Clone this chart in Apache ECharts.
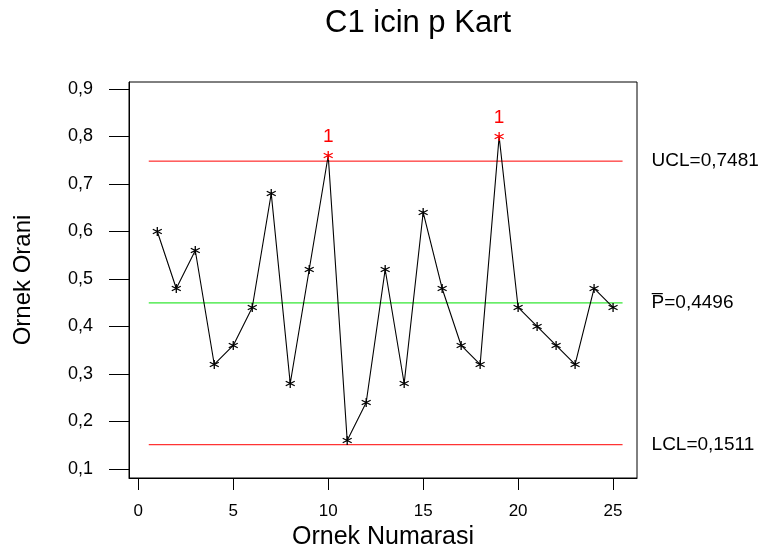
<!DOCTYPE html>
<html>
<head>
<meta charset="utf-8">
<script src="https://cdn.jsdelivr.net/npm/echarts@6/dist/echarts.min.js"></script>
<style>
  html, body { margin: 0; padding: 0; background: #fff; }
  #chart { width: 768px; height: 555px; }
</style>
</head>
<body>
<div id="chart"></div>
<script>
// p chart: proportion per sample, with centre line and 3-sigma limits
const sampleNumbers = [1, 2, 3, 4, 5, 6, 7, 8, 9, 10, 11, 12, 13, 14, 15, 16, 17, 18, 19, 20, 21, 22, 23, 24, 25];
const proportions = [0.60, 0.48, 0.56, 0.32, 0.36, 0.44, 0.68, 0.28, 0.52, 0.76, 0.16, 0.24, 0.52, 0.28, 0.64, 0.48, 0.36, 0.32, 0.80, 0.44, 0.40, 0.36, 0.32, 0.48, 0.44];
const centerLine = 0.4496;
const upperLimit = 0.7481;
const lowerLimit = 0.1511;
const limitSpan = [0.55, 25.5];
const xTicks = [0, 5, 10, 15, 20, 25];
const yTicks = [0.1, 0.2, 0.3, 0.4, 0.5, 0.6, 0.7, 0.8, 0.9];

const FONT = 'Liberation Sans, Arial, sans-serif';
const fmt = v => v.toFixed(1).replace('.', ',');
const fmt4 = v => v.toFixed(4).replace('.', ',');

// asterisk marker
const asterisk = 'path://M0,-1L0,1M-0.866,-0.5L0.866,0.5M-0.866,0.5L0.866,-0.5';

const points = sampleNumbers.map((n, i) => {
  const v = proportions[i];
  const out = v > upperLimit || v < lowerLimit;
  const item = { value: [n, v] };
  if (out) {
    item.itemStyle = { color: '#ff0000', borderColor: '#ff0000' };
    item.label = {
      show: true, position: 'top', distance: 4, formatter: '1',
      color: '#ff0000', fontSize: 19, fontFamily: FONT
    };
  }
  return item;
});

// horizontal control line with its value written past the right end
function limitSeries(value, color, text) {
  return {
    type: 'line',
    data: [[limitSpan[0], value], [limitSpan[1], value]],
    symbol: 'none',
    silent: true,
    lineStyle: { color: color, width: 1 },
    endLabel: {
      show: true, distance: 29, formatter: text,
      color: '#000', fontSize: 19, fontFamily: FONT
    },
    z: 2
  };
}

const chart = echarts.init(document.getElementById('chart'), null, { renderer: 'canvas' });
chart.setOption({
  animation: false,
  backgroundColor: '#ffffff',
  title: {
    text: 'C1 icin p Kart',
    left: 320, top: 3,
    textStyle: { fontFamily: FONT, fontSize: 31, fontWeight: 'normal', color: '#000' }
  },
  grid: {
    left: 129, top: 82, width: 508, height: 396,
    outerBoundsMode: 'none', containLabel: false,
    show: true, borderColor: '#000', borderWidth: 1, backgroundColor: 'transparent'
  },
  xAxis: {
    type: 'value', min: -0.49, max: 26.26,
    name: 'Ornek Numarasi', nameLocation: 'middle', nameGap: 42,
    nameTextStyle: { fontFamily: FONT, fontSize: 25, color: '#000' },
    axisLine: { show: true, onZero: false, lineStyle: { color: '#000', width: 1 } },
    axisTick: { show: true, length: 12, customValues: xTicks, lineStyle: { color: '#000', width: 1 } },
    axisLabel: { customValues: xTicks, margin: 25, fontFamily: FONT, fontSize: 17, color: '#000' },
    splitLine: { show: false }
  },
  yAxis: {
    type: 'value', min: 0.081, max: 0.9147,
    name: 'Ornek Orani', nameLocation: 'middle', nameGap: 94,
    nameTextStyle: { fontFamily: FONT, fontSize: 24, color: '#000' },
    axisLine: { show: true, onZero: false, lineStyle: { color: '#000', width: 1 } },
    axisTick: { show: true, length: 20, customValues: yTicks, lineStyle: { color: '#000', width: 1 } },
    axisLabel: { customValues: yTicks, margin: 36, formatter: fmt, fontFamily: FONT, fontSize: 18, color: '#000' },
    splitLine: { show: false }
  },
  series: [
    limitSeries(upperLimit, '#ff0000', 'UCL=' + fmt4(upperLimit)),
    limitSeries(centerLine, '#00e000', 'P\u0305=' + fmt4(centerLine)),
    limitSeries(lowerLimit, '#ff0000', 'LCL=' + fmt4(lowerLimit)),
    {
      type: 'line',
      data: points,
      symbol: asterisk,
      symbolSize: 9,
      showAllSymbol: true,
      lineStyle: { color: '#000', width: 1.1 },
      itemStyle: { color: '#000', borderColor: '#000', borderWidth: 1.3 },
      z: 5
    }
  ]
});
</script>
</body>
</html>
